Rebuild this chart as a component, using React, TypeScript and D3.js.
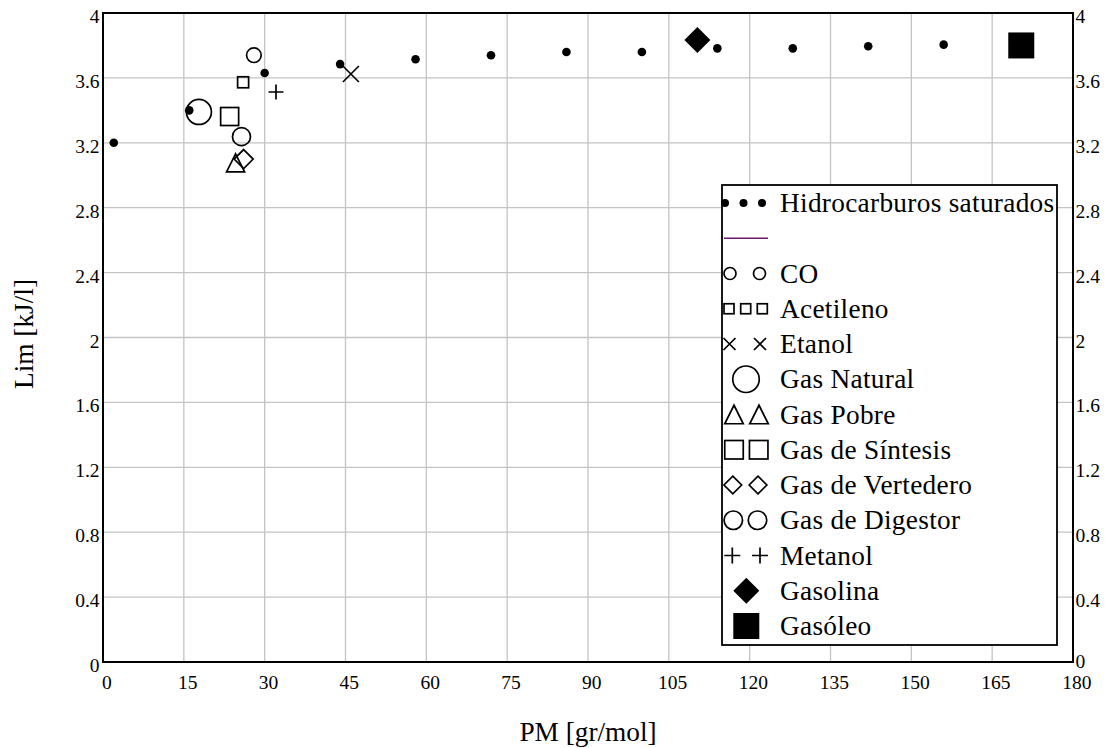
import React from "react";
import * as d3 from "d3";

// ---------- data ----------
const xTicks = [0, 15, 30, 45, 60, 75, 90, 105, 120, 135, 150, 165, 180];
const yTicks = [0, 0.4, 0.8, 1.2, 1.6, 2, 2.4, 2.8, 3.2, 3.6, 4];
const yTickLabels = ["0", "0.4", "0.8", "1.2", "1.6", "2", "2.4", "2.8", "3.2", "3.6", "4"];

// Hidrocarburos saturados
const hcPM = [2, 16, 30, 44, 58, 72, 86, 100, 114, 128, 142, 156];
const hcLim = [3.2, 3.4, 3.63, 3.685, 3.715, 3.74, 3.76, 3.76, 3.782, 3.782, 3.795, 3.805];

// Other fuels
const fuelNames = [
  "CO",
  "Acetileno",
  "Etanol",
  "Gas Natural",
  "Gas Pobre",
  "Gas de Síntesis",
  "Gas de Vertedero",
  "Gas de Digestor",
  "Metanol",
  "Gasolina",
  "Gasóleo",
];
const fuelPM = [28, 26, 46, 17.8, 24.6, 23.5, 26.1, 25.7, 32.1, 110.3, 170.4];
const fuelLim = [3.74, 3.573, 3.624, 3.39, 3.076, 3.362, 3.1, 3.238, 3.513, 3.833, 3.8];

const legendLabels = ["Hidrocarburos saturados", "", ...fuelNames];

// ---------- styling ----------
const W = 1105;
const H = 748;
const M = { left: 103, right: 1073, top: 13, bottom: 662 };
const FONT = "'Liberation Serif', 'Times New Roman', Times, serif";

type Kind =
  | "dot"
  | "circle"
  | "square"
  | "x"
  | "triangle"
  | "diamond"
  | "plus"
  | "fdiamond"
  | "fsquare"
  | "line";

const fuelMarker: { kind: Kind; size: number }[] = [
  { kind: "circle", size: 14.6 },
  { kind: "square", size: 11 },
  { kind: "x", size: 16 },
  { kind: "circle", size: 25 },
  { kind: "triangle", size: 18 },
  { kind: "square", size: 18 },
  { kind: "diamond", size: 19 },
  { kind: "circle", size: 18 },
  { kind: "plus", size: 15 },
  { kind: "fdiamond", size: 26 },
  { kind: "fsquare", size: 26 },
];

const legendMarkers: { kind: Kind; size: number; xs: number[] }[] = [
  { kind: "dot", size: 8, xs: [725, 743.5, 762] },
  { kind: "line", size: 0, xs: [724, 768] },
  { kind: "circle", size: 12, xs: [730, 759.5] },
  { kind: "square", size: 10, xs: [729, 745.7, 762.3] },
  { kind: "x", size: 12, xs: [729.5, 760] },
  { kind: "circle", size: 26.5, xs: [746] },
  { kind: "triangle", size: 18.5, xs: [734, 759] },
  { kind: "square", size: 18.5, xs: [734, 758.7] },
  { kind: "diamond", size: 17.7, xs: [732.8, 758] },
  { kind: "circle", size: 18.5, xs: [733.3, 757.5] },
  { kind: "plus", size: 16, xs: [732.3, 760] },
  { kind: "fdiamond", size: 26, xs: [746.3] },
  { kind: "fsquare", size: 26, xs: [746.3] },
];

function Marker({ kind, x, y, size }: { kind: Kind; x: number; y: number; size: number }) {
  const h = size / 2;
  const sw = 1.7;
  switch (kind) {
    case "dot":
      return <circle cx={x} cy={y} r={h} fill="#000" />;
    case "circle":
      return <circle cx={x} cy={y} r={h} fill="none" stroke="#000" strokeWidth={sw} />;
    case "square":
      return (
        <rect x={x - h} y={y - h} width={size} height={size} fill="none" stroke="#000" strokeWidth={sw} />
      );
    case "fsquare":
      return <rect x={x - h} y={y - h} width={size} height={size} fill="#000" />;
    case "x":
      return (
        <path
          d={`M${x - h},${y - h}L${x + h},${y + h}M${x - h},${y + h}L${x + h},${y - h}`}
          stroke="#000"
          strokeWidth={sw}
          fill="none"
        />
      );
    case "plus":
      return (
        <path
          d={`M${x - h},${y}L${x + h},${y}M${x},${y - h}L${x},${y + h}`}
          stroke="#000"
          strokeWidth={sw}
          fill="none"
        />
      );
    case "triangle":
      return (
        <path
          d={`M${x},${y - h}L${x + h},${y + h}L${x - h},${y + h}Z`}
          stroke="#000"
          strokeWidth={sw}
          fill="none"
        />
      );
    case "diamond":
      return (
        <path
          d={`M${x},${y - h}L${x + h},${y}L${x},${y + h}L${x - h},${y}Z`}
          stroke="#000"
          strokeWidth={sw}
          fill="none"
        />
      );
    case "fdiamond":
      return <path d={`M${x},${y - h}L${x + h},${y}L${x},${y + h}L${x - h},${y}Z`} fill="#000" />;
    default:
      return null;
  }
}

export default function App() {
  const x = d3.scaleLinear().domain([0, 180]).range([M.left, M.right]);
  const y = d3.scaleLinear().domain([0, 4]).range([M.bottom, M.top]);

  const legend = { x: 722, y: 185, w: 335, h: 460 };
  const rowCenter = (i: number) => 203 + i * 35.25;

  return (
    <svg
      width={W}
      height={H}
      style={{ position: "absolute", left: 0, top: 0, fontFamily: FONT }}
    >
      <rect x={0} y={0} width={W} height={H} fill="#fff" />
      {/* grid */}
      {xTicks.slice(1, -1).map((t) => (
        <line key={"gx" + t} x1={x(t)} x2={x(t)} y1={M.top} y2={M.bottom} stroke="#c4c4c4" strokeWidth={1.3} />
      ))}
      {yTicks.slice(1, -1).map((t) => (
        <line key={"gy" + t} x1={M.left} x2={M.right} y1={y(t)} y2={y(t)} stroke="#c4c4c4" strokeWidth={1.3} />
      ))}
      {/* frame */}
      <rect
        x={M.left}
        y={M.top}
        width={M.right - M.left}
        height={M.bottom - M.top}
        fill="none"
        stroke="#000"
        strokeWidth={2}
      />
      {/* tick labels */}
      {xTicks.map((t) => (
        <text key={"xl" + t} x={x(t) + 3.8} y={689} fontSize={19.5} textAnchor="middle" fill="#000">
          {t}
        </text>
      ))}
      {yTicks.map((t, i) => (
        <text key={"yl" + t} x={99.5} y={y(t) + 10} fontSize={19.5} textAnchor="end" fill="#000">
          {yTickLabels[i]}
        </text>
      ))}
      {yTicks.map((t, i) => (
        <text
          key={"yr" + t}
          x={1075.5}
          y={y(t) + (i === 0 ? 6 : 10)}
          fontSize={19.5}
          textAnchor="start"
          fill="#000"
        >
          {yTickLabels[i]}
        </text>
      ))}
      {/* axis titles */}
      <text x={(M.left + M.right) / 2} y={741} fontSize={27.3} textAnchor="middle" fill="#000">
        PM [gr/mol]
      </text>
      <text transform={`translate(33,334) rotate(-90)`} fontSize={27.3} textAnchor="middle" fill="#000">
        Lim [kJ/l]
      </text>
      {/* data: saturated hydrocarbons */}
      {hcPM.map((p, i) => (
        <Marker key={"hc" + i} kind="dot" x={x(p)} y={y(hcLim[i])} size={8.6} />
      ))}
      {/* fuels */}
      {fuelPM.map((p, i) => (
        <Marker
          key={"f" + i}
          kind={fuelMarker[i].kind}
          x={x(p)}
          y={y(fuelLim[i])}
          size={fuelMarker[i].size}
        />
      ))}
      {/* legend */}
      <rect
        x={legend.x}
        y={legend.y}
        width={legend.w}
        height={legend.h}
        fill="#fff"
        stroke="#000"
        strokeWidth={1.8}
      />
      {legendLabels.map((lab, i) => {
        const cy = rowCenter(i);
        const lm = legendMarkers[i];
        return (
          <g key={"lg" + i}>
            {lm.kind === "line" ? (
              <line x1={lm.xs[0]} x2={lm.xs[1]} y1={cy} y2={cy} stroke="#6b1a6b" strokeWidth={1.6} />
            ) : (
              lm.xs.map((xx, j) => <Marker key={j} kind={lm.kind} x={xx} y={cy} size={lm.size} />)
            )}
            {lab && (
              <text x={780} y={cy + 9} fontSize={27.3} letterSpacing={0.3} fill="#000">
                {lab}
              </text>
            )}
          </g>
        );
      })}
    </svg>
  );
}
